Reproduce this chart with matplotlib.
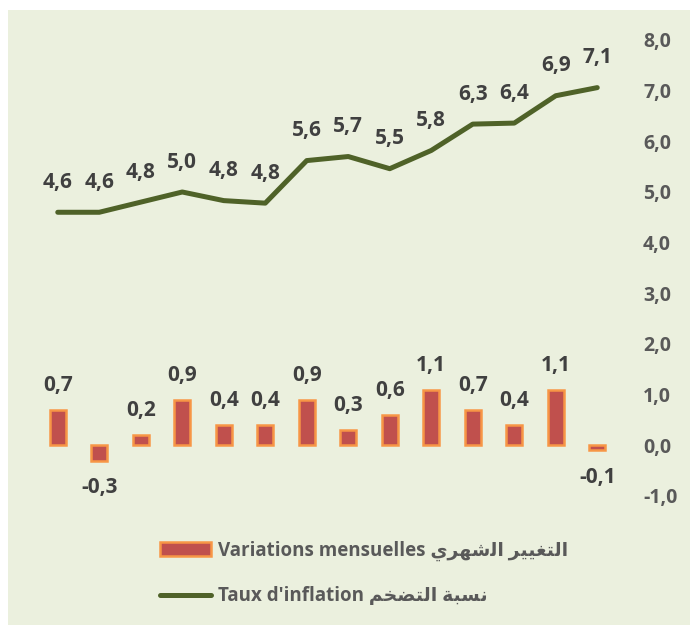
import matplotlib
matplotlib.use("Agg")
import matplotlib.pyplot as plt
import numpy as np

## Data
mois = list(range(14))
variations = [0.7, -0.3, 0.2, 0.9, 0.4, 0.4, 0.9, 0.3, 0.6, 1.1, 0.7, 0.4, 1.1, -0.1]
inflation = [4.6, 4.6, 4.8, 5.0, 4.83, 4.78, 5.62, 5.7, 5.46, 5.82, 6.34, 6.36, 6.9, 7.06]
y_ticks = [-1, 0, 1, 2, 3, 4, 5, 6, 7, 8]

# Arabic text written in visual order with presentation forms (no shaping engine here)
ar_mensuel = "\uFEF1\uFEAE\uFEEC\uFEB7\uFEDF\uFE8D \uFEAE\uFEF4\uFEF4\uFED0\uFE98\uFEDF\uFE8D"
ar_taux = "\uFEE2\uFEA8\uFEC0\uFE98\uFEDF\uFE8D \uFE94\uFE92\uFEB4\uFEE7"
label_bars = "Variations mensuelles " + ar_mensuel
label_line = "Taux d'inflation " + ar_taux

## Colours
bg = "#EBF0DE"
bar_fill = "#C0504D"
bar_edge = "#F79646"
line_col = "#4F6228"
txt_dark = "#404040"
txt_grey = "#595959"

fonts = ["Open Sans", "DejaVu Sans"]
plt.rcParams["font.family"] = fonts

fig = plt.figure(figsize=(6.9, 6.25), dpi=100)
# background panel, with white strip on top and left
fig.patches.append(plt.Rectangle((8 / 690, 0), 1, 1 - 10 / 625, transform=fig.transFigure,
                                 facecolor=bg, edgecolor="none", zorder=-5))

ax = fig.add_axes([37 / 690, 1 - 496 / 625, (618 - 37) / 690, (496 - 40) / 625])
ax.set_facecolor("none")

bars = ax.bar(mois, variations, width=0.38, color=bar_fill, edgecolor=bar_edge, linewidth=1.8,
              label=label_bars, zorder=2)
line, = ax.plot(mois, inflation, color=line_col, linewidth=3.6, solid_capstyle="round",
                solid_joinstyle="round", label=label_line, zorder=3)

# data labels
for x, v in zip(mois, variations):
    txt = "{:.1f}".format(v).replace(".", ",")
    if v >= 0:
        ax.annotate(txt, (x, v), xytext=(0, 10), textcoords="offset points",
                    ha="center", va="bottom", fontsize=15, fontweight="bold", color=txt_dark)
    else:
        ax.annotate(txt, (x, v), xytext=(0, -12), textcoords="offset points",
                    ha="center", va="top", fontsize=15, fontweight="bold", color=txt_dark)

for x, v in zip(mois, inflation):
    txt = "{:.1f}".format(v).replace(".", ",")
    ax.annotate(txt, (x, v), xytext=(0, 14), textcoords="offset points",
                ha="center", va="bottom", fontsize=15, fontweight="bold", color=txt_dark)

ax.set_xlim(-0.5, 13.5)
ax.set_ylim(-1, 8)
ax.set_xticks([])
ax.yaxis.tick_right()
ax.set_yticks(y_ticks)
ax.set_yticklabels(["{:.1f}".format(t).replace(".", ",") for t in y_ticks])
ax.tick_params(axis="y", length=0, pad=18, labelsize=14, labelcolor=txt_grey)
for lbl in ax.get_yticklabels():
    lbl.set_fontweight("bold")
for s in ax.spines.values():
    s.set_visible(False)

leg = ax.legend([bars, line], [label_bars, label_line], loc="upper left",
                bbox_to_anchor=(143 / 690, 1 - 524 / 625),
                bbox_transform=fig.transFigure, frameon=False, handlelength=2.7,
                handleheight=0.75, labelspacing=1.35, handletextpad=0.4,
                prop={"family": fonts, "weight": "bold", "size": 13.5})
for t in leg.get_texts():
    t.set_color(txt_grey)

fig.savefig("out.png", dpi=100, facecolor="white")
